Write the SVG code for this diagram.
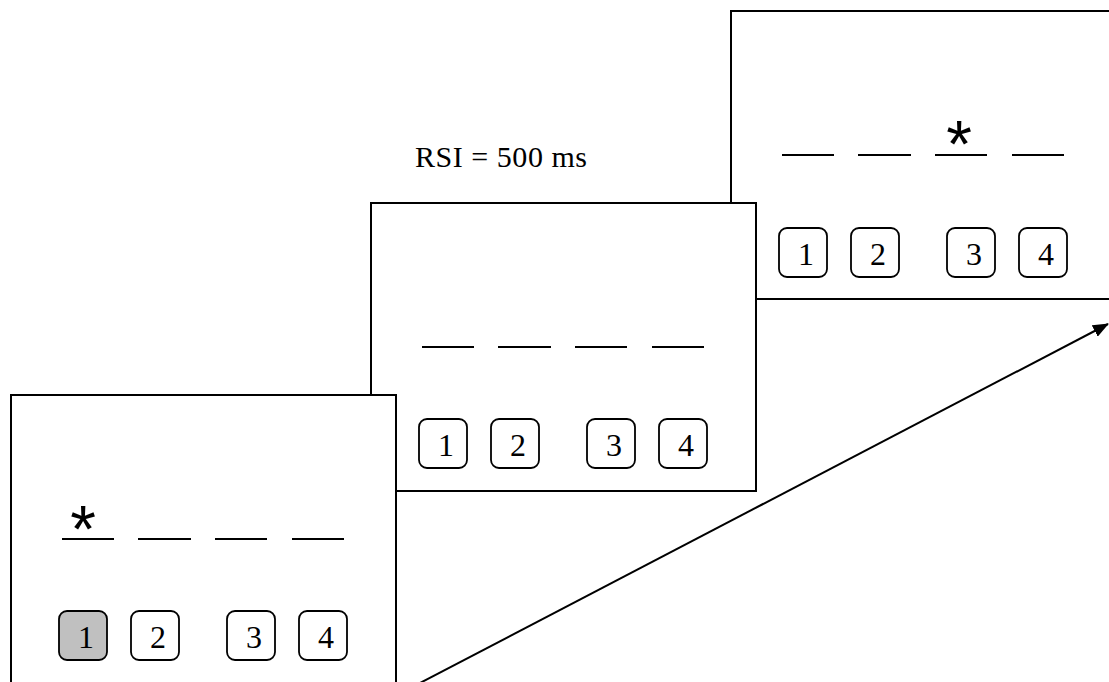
<svg xmlns="http://www.w3.org/2000/svg" width="1109" height="682" viewBox="0 0 1109 682">
  <style>
    .frame { fill: #ffffff; stroke: #000000; stroke-width: 2; }
    .dash { stroke: #000000; stroke-width: 2; fill: none; }
    .key { fill: #ffffff; stroke: #000000; stroke-width: 1.8; }
    .key.pressed { fill: #c0c0c0; }
    .digit { font-family: "Liberation Serif", "Times New Roman", serif; font-size: 32px; text-anchor: middle; fill: #000; }
    .star { font-family: "Liberation Sans", Arial, sans-serif; font-size: 66px; text-anchor: middle; fill: #000; }
    .label { font-family: "Liberation Serif", "Times New Roman", serif; font-size: 30px; fill: #000; }
  </style>
  <defs>
    <marker id="arrow" markerWidth="16" markerHeight="13" refX="15" refY="6.5" orient="auto" markerUnits="userSpaceOnUse">
      <path d="M0,0 L16,6.5 L0,13 z" fill="#000"/>
    </marker>
  </defs>
  <rect width="1109" height="682" fill="#ffffff"/>

  <g id="frame3" transform="translate(731,11)">
    <rect class="frame" x="0" y="0" width="385" height="288"/>
    <line class="dash" x1="51" y1="144" x2="103" y2="144"/>
    <line class="dash" x1="127" y1="144" x2="180" y2="144"/>
    <line class="dash" x1="204" y1="144" x2="256" y2="144"/>
    <line class="dash" x1="281" y1="144" x2="333" y2="144"/>
    <text class="star" x="228" y="156">*</text>
    <rect class="key" x="48" y="217" width="48" height="49" rx="8"/>
    <rect class="key" x="120" y="217" width="48" height="49" rx="8"/>
    <rect class="key" x="216" y="217" width="48" height="49" rx="8"/>
    <rect class="key" x="288" y="217" width="48" height="49" rx="8"/>
    <text class="digit" x="75" y="254">1</text>
    <text class="digit" x="147" y="254">2</text>
    <text class="digit" x="243" y="254">3</text>
    <text class="digit" x="315" y="254">4</text>
  </g>

  <g id="rsi-label">
    <text class="label" x="415" y="167" textLength="172" lengthAdjust="spacing">RSI = 500 ms</text>
  </g>

  <g id="frame2" transform="translate(371,203)">
    <rect class="frame" x="0" y="0" width="385" height="288"/>
    <line class="dash" x1="51" y1="144" x2="103" y2="144"/>
    <line class="dash" x1="127" y1="144" x2="180" y2="144"/>
    <line class="dash" x1="204" y1="144" x2="256" y2="144"/>
    <line class="dash" x1="281" y1="144" x2="333" y2="144"/>
    <rect class="key" x="48" y="216" width="48" height="49" rx="8"/>
    <rect class="key" x="120" y="216" width="48" height="49" rx="8"/>
    <rect class="key" x="216" y="216" width="48" height="49" rx="8"/>
    <rect class="key" x="288" y="216" width="48" height="49" rx="8"/>
    <text class="digit" x="75" y="253">1</text>
    <text class="digit" x="147" y="253">2</text>
    <text class="digit" x="243" y="253">3</text>
    <text class="digit" x="315" y="253">4</text>
  </g>

  <g id="frame1" transform="translate(11,395)">
    <rect class="frame" x="0" y="0" width="385" height="288"/>
    <line class="dash" x1="51" y1="144" x2="103" y2="144"/>
    <line class="dash" x1="127" y1="144" x2="180" y2="144"/>
    <line class="dash" x1="204" y1="144" x2="256" y2="144"/>
    <line class="dash" x1="281" y1="144" x2="333" y2="144"/>
    <text class="star" x="72" y="157">*</text>
    <rect class="key pressed" x="48" y="216" width="48" height="49" rx="8"/>
    <rect class="key" x="120" y="216" width="48" height="49" rx="8"/>
    <rect class="key" x="216" y="216" width="48" height="49" rx="8"/>
    <rect class="key" x="288" y="216" width="48" height="49" rx="8"/>
    <text class="digit" x="75" y="253">1</text>
    <text class="digit" x="147" y="253">2</text>
    <text class="digit" x="243" y="253">3</text>
    <text class="digit" x="315" y="253">4</text>
  </g>

  <g id="connectors">
    <line x1="420" y1="683" x2="1108" y2="324" stroke="#000" stroke-width="2" marker-end="url(#arrow)"/>
  </g>
</svg>
